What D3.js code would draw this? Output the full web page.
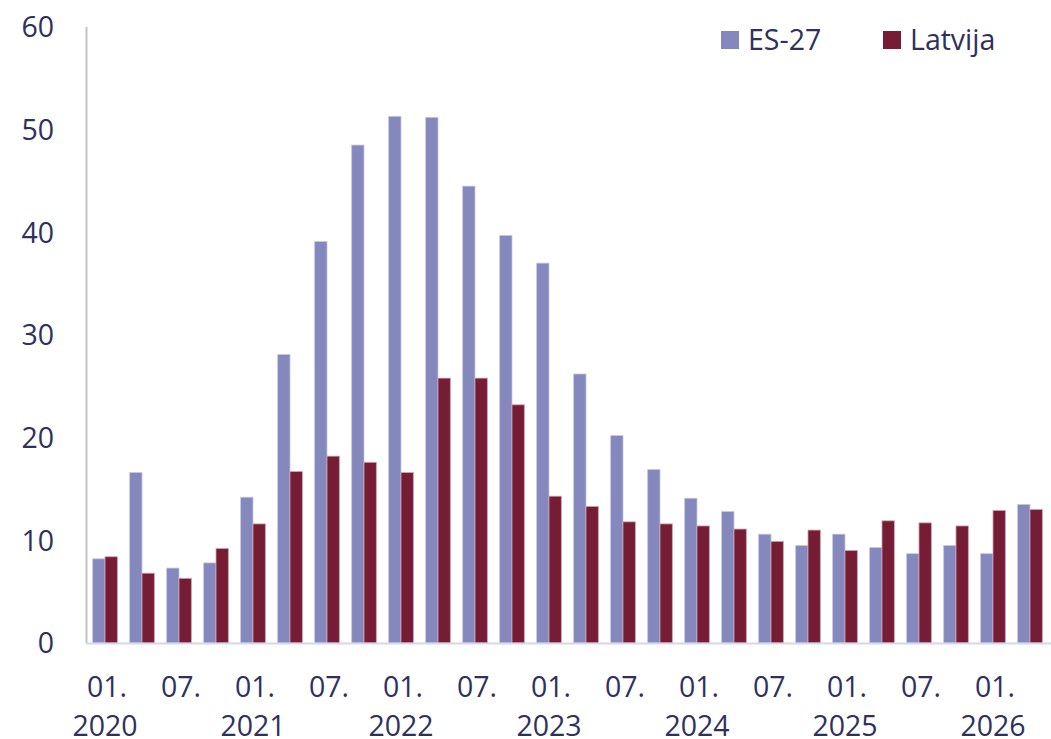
<!DOCTYPE html>
<html><head><meta charset="utf-8">
<script src="https://cdn.jsdelivr.net/npm/d3@7"></script>
<style>body{margin:0;background:#fff}svg{display:block}</style>
</head><body>
<svg id="c" width="1051" height="739"></svg>
<script>
const categories = ["2020-01","2020-04","2020-07","2020-10","2021-01","2021-04","2021-07","2021-10",
"2022-01","2022-04","2022-07","2022-10","2023-01","2023-04","2023-07","2023-10",
"2024-01","2024-04","2024-07","2024-10","2025-01","2025-04","2025-07","2025-10","2026-01","2026-04"];
const es27 = [8.2,16.6,7.3,7.8,14.2,28.1,39.1,48.5,51.3,51.2,44.5,39.7,37.0,26.2,20.2,16.9,14.1,12.8,10.6,9.5,10.6,9.3,8.7,9.5,8.7,13.5];
const latvija = [8.4,6.8,6.3,9.2,11.6,16.7,18.2,17.6,16.6,25.8,25.8,23.2,14.3,13.3,11.8,11.6,11.4,11.1,9.9,11.0,9.0,11.9,11.7,11.4,12.9,13.0];
const seriesNames = ["ES-27","Latvija"];
const yTicks = [0,10,20,30,40,50,60];

const colors = ["#8488bd","#761d35"];
const textColor = "#30305c";
const font = "'Open Sans', 'Noto Sans', sans-serif";
const fs = "28.5px";

const svg = d3.select("#c");
const x = d3.scaleBand().domain(categories).range([86.5,1048.5]).paddingInner(0.333).paddingOuter(0.1667);
const xs = d3.scaleBand().domain(seriesNames).range([0,x.bandwidth()]);
const y = d3.scaleLinear().domain([0,60]).range([643,27]);

// y tick labels
svg.append("g").selectAll("text").data(yTicks).join("text")
  .attr("x",54).attr("y",d=>y(d)).attr("dy","0.36em")
  .attr("text-anchor","end").attr("fill",textColor)
  .style("font-family",font).style("font-size",fs).text(d=>d);

// bars
const data = [es27, latvija];
data.forEach((vals,si)=>{
  svg.append("g").selectAll("rect").data(vals).join("rect")
    .attr("x",(d,i)=>x(categories[i])+xs(seriesNames[si]))
    .attr("width",xs.bandwidth())
    .attr("y",d=>y(d)).attr("height",d=>y(0)-y(d))
    .attr("fill",colors[si])
    .attr("stroke", si===0 ? "#c4c6e4" : "#c9a3b0").attr("stroke-width",0.8);
});

// axes lines
svg.append("line").attr("x1",86.5).attr("x2",86.5).attr("y1",27).attr("y2",643)
  .attr("stroke","#c4c4c4").attr("stroke-width",2);
svg.append("line").attr("x1",86).attr("x2",1051).attr("y1",643.5).attr("y2",643.5)
  .attr("stroke","#d6d6ee").attr("stroke-width",2);

// x labels
const xl = svg.append("g");
categories.forEach((c,i)=>{
  const [yr,m] = c.split("-");
  if (m==="01" || m==="07") {
    const cx = x(c)+x.bandwidth()/2;
    xl.append("text").attr("x",cx+2).attr("y",697).attr("text-anchor","middle")
      .attr("fill",textColor).style("font-family",font).style("font-size",fs).text(m+".");
    if (m==="01") xl.append("text").attr("x",cx).attr("y",736).attr("text-anchor","middle")
      .attr("fill",textColor).style("font-family",font).style("font-size",fs).text(yr);
  }
});

// legend
const leg = [{n:seriesNames[0],c:colors[0],x:721,tx:748},{n:seriesNames[1],c:colors[1],x:883,tx:910}];
leg.forEach(l=>{
  svg.append("rect").attr("x",l.x).attr("y",31).attr("width",18).attr("height",18).attr("fill",l.c);
  svg.append("text").attr("x",l.tx).attr("y",40).attr("dy","0.36em").attr("fill",textColor)
    .style("font-family",font).style("font-size",fs).text(l.n);
});
</script>
</body></html>
